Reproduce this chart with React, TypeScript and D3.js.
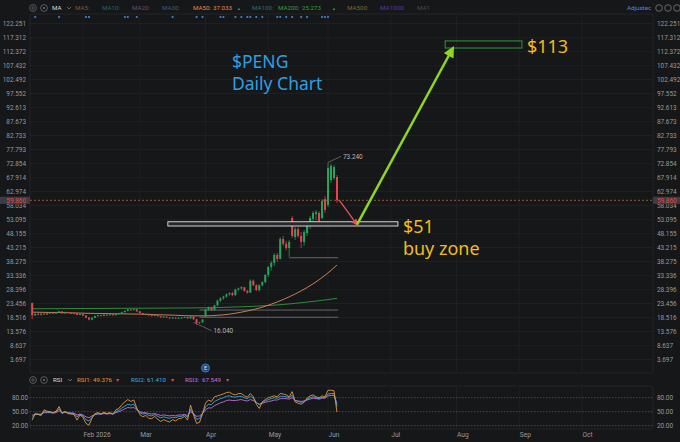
import React from "react";
import * as d3 from "d3";

type Bar = [number, number, number, number]; // open, high, low, close

const firstSession = "2026-01-07";
const holidays = ["2026-01-19", "2026-02-16", "2026-04-03", "2026-05-25", "2026-06-19", "2026-07-03", "2026-09-07"];
const monthLabels = ["Feb 2026", "Mar", "Apr", "May", "Jun", "Jul", "Aug", "Sep", "Oct"];
const priceTicks = [122.251, 117.312, 112.372, 107.432, 102.492, 97.552, 92.613, 87.673, 82.733, 77.793, 72.854, 67.914,
  62.974, 58.034, 53.095, 48.155, 43.215, 38.275, 33.336, 28.396, 23.456, 18.516, 13.576, 8.637, 3.697];
const rsiTicks = [80, 50, 20];

const candles: Bar[] = [
  [23.6, 23.8, 17.9, 19.3], [19.3, 20.0, 19.0, 19.8], [19.8, 20.1, 19.3, 19.5], [19.5, 20.0, 19.2, 19.9],
  [19.9, 20.2, 19.5, 19.6], [19.6, 20.2, 19.4, 20.0], [20.0, 20.4, 19.8, 20.2], [20.2, 20.5, 19.8, 19.9],
  [19.9, 20.6, 19.8, 20.4], [20.4, 20.9, 20.2, 20.7], [20.7, 20.8, 19.9, 20.0], [20.0, 20.6, 19.9, 20.4],
  [20.4, 20.5, 20.0, 20.1], [20.1, 20.3, 19.8, 20.0], [20.0, 20.2, 19.7, 19.9], [19.9, 20.0, 19.3, 19.4],
  [19.4, 19.9, 19.3, 19.7], [19.7, 19.8, 19.0, 19.2], [19.2, 19.3, 18.3, 18.5], [18.5, 18.6, 17.5, 17.8],
  [17.8, 18.6, 17.6, 18.4], [18.4, 19.2, 18.3, 19.0], [19.0, 19.5, 18.8, 19.3], [19.3, 19.4, 18.9, 19.1],
  [19.1, 19.7, 19.0, 19.5], [19.5, 19.6, 19.1, 19.3], [19.3, 19.8, 19.2, 19.6], [19.6, 19.7, 19.1, 19.3],
  [19.3, 19.9, 19.2, 19.7], [19.7, 20.2, 19.6, 19.9], [19.9, 20.6, 19.8, 20.4], [20.4, 21.0, 20.3, 20.8],
  [20.8, 21.6, 20.7, 21.3], [21.3, 21.5, 20.9, 21.1], [21.1, 21.6, 21.0, 21.4], [21.4, 21.5, 20.5, 20.7],
  [20.7, 20.8, 19.9, 20.1], [20.1, 20.2, 19.5, 19.7], [19.7, 20.0, 19.5, 19.8], [19.8, 19.9, 19.1, 19.3],
  [19.3, 19.5, 18.9, 19.2], [19.2, 19.6, 19.0, 19.4], [19.4, 19.5, 18.8, 19.0], [19.0, 19.1, 18.4, 18.6],
  [18.6, 19.0, 18.5, 18.8], [18.8, 18.9, 18.3, 18.5], [18.5, 18.6, 18.1, 18.2], [18.2, 18.7, 18.1, 18.5],
  [18.5, 18.6, 18.0, 18.2], [18.2, 18.6, 18.0, 18.4], [18.4, 18.7, 18.2, 18.5], [18.5, 18.9, 18.3, 18.7],
  [18.7, 18.8, 18.1, 18.2], [18.2, 19.1, 18.1, 18.9], [18.9, 19.0, 17.7, 17.9], [17.9, 18.0, 16.04, 16.6],
  [16.6, 17.0, 16.3, 16.8], [16.8, 18.0, 16.7, 17.8], [18.9, 21.6, 18.7, 21.3], [21.3, 22.4, 20.9, 22.1],
  [22.1, 22.2, 20.8, 21.1], [21.1, 23.0, 21.0, 22.8], [22.8, 24.8, 22.5, 24.5], [24.5, 25.6, 24.0, 25.3],
  [25.3, 26.2, 24.8, 25.9], [25.9, 27.0, 25.5, 26.7], [26.7, 27.4, 26.2, 27.1], [27.1, 27.6, 26.0, 26.4],
  [26.4, 28.7, 26.2, 28.4], [28.4, 29.1, 27.8, 28.8], [28.8, 29.5, 28.3, 29.2], [29.2, 29.3, 27.6, 27.9],
  [27.9, 28.3, 26.9, 27.3], [27.3, 32.0, 27.2, 31.5], [31.5, 31.9, 29.6, 29.9], [29.9, 30.3, 27.8, 28.2],
  [28.2, 30.2, 27.6, 29.9], [29.9, 31.3, 29.5, 31.0], [31.0, 33.9, 30.7, 33.5], [33.5, 36.7, 32.8, 36.3],
  [36.3, 38.5, 35.0, 37.8], [37.8, 41.3, 36.7, 40.6], [40.6, 41.3, 38.1, 39.2], [39.2, 46.9, 39.1, 46.2],
  [46.2, 47.3, 43.8, 44.5], [44.5, 45.5, 42.3, 43.0], [43.0, 45.9, 39.9, 45.2], [53.6, 54.3, 46.6, 47.3],
  [46.9, 50.5, 45.9, 49.7], [49.7, 50.5, 46.6, 47.3], [47.3, 48.7, 43.0, 45.2], [45.2, 49.4, 43.8, 48.7],
  [48.3, 52.2, 47.3, 51.5], [51.2, 54.3, 49.7, 53.6], [53.3, 56.1, 50.8, 55.4], [55.0, 56.5, 52.9, 55.7],
  [55.4, 56.1, 51.5, 52.6], [53.6, 60.3, 53.3, 59.6], [60.3, 61.4, 55.4, 56.5], [58.2, 73.24, 57.5, 71.3],
  [67.0, 72.7, 66.0, 72.0], [67.7, 72.3, 67.0, 71.6], [68.1, 68.8, 58.9, 59.86],
];
const lastClose = 59.86;
const highBar = 99;
const lowBar = 55;

const ma50Bars = [0, 6, 12, 18, 24, 30, 36, 42, 48, 54, 58, 62, 66, 70, 74, 78, 82, 86, 90, 94, 98, 102];
const ma50 = [20.4, 20.3, 20.2, 20.0, 19.9, 19.8, 19.7, 19.5, 19.3, 19.1, 19.1, 19.3, 19.7, 20.4, 21.3, 22.5, 24.0, 25.8, 27.9, 30.4, 33.4, 37.033];
const ma200Bars = [0, 20, 40, 58, 70, 80, 88, 94, 98, 102];
const ma200 = [21.6, 21.7, 21.8, 21.95, 22.3, 22.8, 23.5, 24.2, 24.7, 25.273];

const rsi1 = [32, 46, 44, 42, 54, 51, 50, 48, 51, 61, 46, 50, 46, 45, 44, 32, 43, 38, 25, 21,
  36, 46, 48, 45, 49, 46, 48, 45, 54, 57, 65, 71, 76, 72, 75, 58, 44, 39, 42, 36,
  35, 40, 34, 29, 33, 30, 28, 33, 30, 35, 36, 40, 32, 64, 43, 25, 27, 46, 68, 75,
  72, 82, 84, 86, 88, 91, 92, 88, 86, 89, 89, 84, 81, 89, 82, 66, 57, 71, 76, 80,
  82, 84, 82, 89, 88, 86, 82, 93, 71, 68, 66, 70, 79, 84, 86, 82, 80, 84, 82, 96,
  96, 95, 49.376];
const rsi2 = [38, 44, 44, 43, 50, 49, 49, 48, 50, 56, 48, 50, 47, 47, 46, 39, 44, 41, 33, 30,
  38, 44, 46, 45, 47, 46, 47, 45, 50, 53, 58, 62, 66, 64, 66, 56, 48, 45, 46, 42,
  41, 44, 40, 37, 39, 37, 36, 38, 37, 40, 40, 43, 38, 55, 45, 34, 35, 46, 60, 66,
  65, 72, 75, 78, 80, 83, 84, 82, 81, 83, 83, 80, 78, 83, 79, 70, 65, 70, 73, 76,
  78, 80, 79, 83, 83, 82, 80, 85, 74, 72, 70, 72, 77, 80, 82, 80, 78, 81, 80, 88,
  89, 89, 61.41];
const rsi3 = [42, 45, 45, 45, 48, 48, 48, 47, 48, 52, 48, 49, 48, 47, 47, 43, 45, 43, 39, 37,
  41, 44, 45, 45, 46, 45, 46, 45, 48, 50, 53, 56, 59, 58, 59, 54, 50, 48, 48, 46,
  45, 46, 44, 42, 43, 42, 41, 42, 41, 43, 43, 44, 42, 50, 46, 40, 41, 46, 54, 58,
  58, 63, 66, 69, 71, 74, 75, 74, 74, 75, 76, 74, 73, 76, 74, 69, 66, 68, 70, 72,
  73, 75, 75, 78, 78, 78, 77, 80, 74, 73, 72, 73, 75, 77, 79, 78, 77, 79, 79, 84,
  85, 85, 67.549];

const newsBars = [1, 9, 18, 19, 31, 32, 35, 47, 55, 57, 63, 64, 68, 70, 72, 73, 75, 77, 82, 83, 85, 87, 90, 92, 97, 98, 99];
const earningsBar = 58;

// horizontal levels drawn on the chart (bar range, price)
const levelLines = [
  { from: 86, to: 102.4, price: 39.6 },
  { from: 56, to: 102.4, price: 21.15 },
  { from: 56, to: 102.4, price: 18.6 },
];
const buyZone = { from: 45.4, to: 122.4, low: 50.8, high: 52.3 };
const targetZone = { from: 138.2, to: 163.9, low: 113.6, high: 116.1 };
const pullback: [number, number][] = [[102.7, 59.98], [108.7, 51.3]];
const projection: [number, number][] = [[108.7, 51.3], [140.8, 113.6]];

function buildSessions(start: string, n: number): Date[] {
  const out: Date[] = [];
  const d = new Date(start + "T00:00:00Z");
  while (out.length < n) {
    const wd = d.getUTCDay();
    const iso = d.toISOString().slice(0, 10);
    if (wd !== 0 && wd !== 6 && !holidays.includes(iso)) out.push(new Date(d));
    d.setUTCDate(d.getUTCDate() + 1);
  }
  return out;
}

const UP = "#22a65e";
const DOWN = "#e5464d";
const GRID = "#212328";
const AXIS = "#9a9a9a";
const GOLD = "#f0bd1c";
const small = "Roboto, 'Noto Sans', sans-serif";

export default function App() {
  const W = 680, H = 442;
  const plotL = 30, plotR = 653, plotT = 14, plotB = 373;
  const rsiT = 386, rsiB = 429;

  const sessions = buildSessions(firstSession, 190);
  const monthStarts = sessions
    .map((d, i) => (i > 0 && d.getUTCMonth() !== sessions[i - 1].getUTCMonth() ? i : -1))
    .filter((i) => i > 0)
    .slice(0, monthLabels.length);

  const x = d3.scaleLinear().domain([0, 184]).range([32.2, 582]);
  const y = d3.scaleLinear().domain([3.697, 122.251]).range([359.5, 23.5]);
  const yr = d3.scaleLinear().domain([20, 80]).range([425.7, 397.7]);

  const maLine = d3.line<[number, number]>().x((d) => x(d[0])).y((d) => y(d[1])).curve(d3.curveMonotoneX);
  const rsiLine = d3.line<number>().x((_, i) => x(i)).y((d) => yr(d));

  const hx = x(highBar), hy = y(candles[highBar][1]);
  const lx = x(lowBar), ly = y(candles[lowBar][2]);
  const lastY = y(lastClose);

  const topLegend = [
    { t: "MA5:", c: "#7d5c38", x: 75 },
    { t: "MA10:", c: "#2f6270", x: 102 },
    { t: "MA20:", c: "#6a4c78", x: 132 },
    { t: "MA30:", c: "#3e5a88", x: 162 },
    { t: "MA50:", c: "#e38b3d", x: 193 },
    { t: "37.033", c: "#e38b3d", x: 213 },
    { t: "▲", c: UP, x: 237, s: 4 },
    { t: "MA100:", c: "#2f6f6f", x: 252 },
    { t: "MA200:", c: "#2fa040", x: 278 },
    { t: "25.273", c: "#2fa040", x: 302 },
    { t: "▲", c: UP, x: 332, s: 4 },
    { t: "MA500:", c: "#7a6a2a", x: 347 },
    { t: "MA1000:", c: "#5a3a9a", x: 380 },
    { t: "MA1", c: "#4a4a4a", x: 417 },
  ];
  const rsiLegend = [
    { t: "RSI1:", c: "#e6963a", x: 77 },
    { t: "49.376", c: "#e6963a", x: 93 },
    { t: "▾", c: DOWN, x: 116 },
    { t: "RSI2:", c: "#38aee0", x: 131 },
    { t: "61.410", c: "#38aee0", x: 147 },
    { t: "▾", c: DOWN, x: 171 },
    { t: "RSI3:", c: "#c76ee0", x: 185 },
    { t: "67.549", c: "#c76ee0", x: 202 },
    { t: "▾", c: DOWN, x: 226 },
  ];

  const icons = (cy: number, name: string, nx: number) => (
    <g>
      <circle cx={33} cy={cy} r={3.4} fill="none" stroke="#6c6c6c" strokeWidth={0.8} />
      <circle cx={33} cy={cy} r={1.2} fill="none" stroke="#6c6c6c" strokeWidth={0.7} />
      <circle cx={44} cy={cy} r={3.4} fill="none" stroke="#6c6c6c" strokeWidth={0.8} />
      <circle cx={44} cy={cy} r={1.1} fill="#6c6c6c" />
      <text x={nx} y={cy + 2.2} fontSize={6.2} fill="#dcdcdc" fontFamily={small}>{name}</text>
      <path d={`M${nx + 15},${cy - 1} l2,2 l2,-2`} fill="none" stroke="#7a7a7a" strokeWidth={0.8} />
    </g>
  );

  return (
    <svg width={W} height={H} style={{ position: "fixed", left: 0, top: 0, display: "block" }}>
      <defs>
        <marker id="gHead" viewBox="0 0 10 10" refX="8" refY="5" markerWidth="5" markerHeight="4.4" orient="auto">
          <path d="M0,0 L10,5 L0,10 z" fill="#8fd61f" />
        </marker>
        <marker id="rHead" viewBox="0 0 10 10" refX="8" refY="5" markerWidth="5" markerHeight="5" orient="auto">
          <path d="M0,0 L10,5 L0,10 z" fill="#e25555" />
        </marker>
      </defs>
      <rect width={W} height={H} fill="#161719" />

      {/* grid */}
      {priceTicks.map((t) => (
        <line key={t} x1={plotL} x2={plotR} y1={y(t)} y2={y(t)} stroke={GRID} strokeWidth={0.7} />
      ))}
      {monthStarts.map((i) => (
        <g key={i}>
          <line x1={x(i)} x2={x(i)} y1={plotT} y2={plotB} stroke={GRID} strokeWidth={0.7} />
          <line x1={x(i)} x2={x(i)} y1={rsiT} y2={rsiB} stroke={GRID} strokeWidth={0.7} />
        </g>
      ))}
      <rect x={plotL} y={plotT} width={plotR - plotL} height={plotB - plotT} rx={2} fill="none" stroke="#26282d" strokeWidth={0.8} />
      <rect x={plotL} y={rsiT} width={plotR - plotL} height={rsiB - rsiT} rx={2} fill="none" stroke="#26282d" strokeWidth={0.8} />

      {/* price axes */}
      {priceTicks.map((t) => (
        <g key={"l" + t} fontSize={6.4} fill={AXIS} fontFamily={small}>
          <text x={26} y={y(t) + 2.2} textAnchor="end">{t.toFixed(3)}</text>
          <text x={657} y={y(t) + 2.2}>{t.toFixed(3)}</text>
        </g>
      ))}

      {/* level lines */}
      {levelLines.map((l, k) => (
        <line key={k} x1={x(l.from)} x2={x(l.to)} y1={y(l.price)} y2={y(l.price)} stroke="#6d6f74" strokeWidth={0.9} />
      ))}

      {/* moving averages */}
      <path d={maLine(ma200Bars.map((b, k) => [b, ma200[k]] as [number, number]))!} fill="none" stroke="#2f9a3c" strokeWidth={0.9} />
      <path d={maLine(ma50Bars.map((b, k) => [b, ma50[k]] as [number, number]))!} fill="none" stroke="#d88a5c" strokeWidth={0.9} />

      {/* current price */}
      <line x1={plotL} x2={plotR} y1={lastY} y2={lastY} stroke="#b8643a" strokeWidth={0.8} strokeDasharray="2,2" />

      {/* candles */}
      {candles.map(([o, h, l, c], i) => {
        const col = c >= o ? UP : DOWN;
        const top = y(Math.max(o, c));
        const bh = Math.max(0.8, y(Math.min(o, c)) - top);
        return (
          <g key={i}>
            <line x1={x(i)} x2={x(i)} y1={y(h)} y2={y(l)} stroke={col} strokeWidth={0.7} />
            <rect x={x(i) - 1} y={top} width={2} height={bh} fill={col} />
          </g>
        );
      })}

      {/* high / low labels */}
      <path d={`M${hx},${hy} L${hx + 13},${hy - 6}`} stroke="#8a8a8a" strokeWidth={0.6} fill="none" />
      <text x={hx + 15} y={hy - 3.5} fontSize={6.4} fill="#b4b4b4" fontFamily={small}>{candles[highBar][1].toFixed(3)}</text>
      <path d={`M${lx - 3},${ly - 2} L${lx + 15},${ly + 6}`} stroke="#8a8a8a" strokeWidth={0.6} fill="none" />
      <text x={lx + 17} y={ly + 8.5} fontSize={6.4} fill="#b4b4b4" fontFamily={small}>{candles[lowBar][2].toFixed(3)}</text>

      {/* annotations */}
      <rect x={x(buyZone.from)} y={y(buyZone.high)} width={x(buyZone.to) - x(buyZone.from)} height={y(buyZone.low) - y(buyZone.high)}
        fill="#26282b" stroke="#e6e6e6" strokeWidth={0.9} />
      <rect x={x(targetZone.from)} y={y(targetZone.high)} width={x(targetZone.to) - x(targetZone.from)} height={y(targetZone.low) - y(targetZone.high)}
        fill="none" stroke="#2e9a3a" strokeWidth={1} />
      <line x1={x(pullback[0][0])} y1={y(pullback[0][1])} x2={x(pullback[1][0])} y2={y(pullback[1][1])}
        stroke="#e25555" strokeWidth={1.3} markerEnd="url(#rHead)" />
      <line x1={x(projection[0][0])} y1={y(projection[0][1])} x2={x(projection[1][0])} y2={y(projection[1][1])}
        stroke="#8fd61f" strokeWidth={2.5} markerEnd="url(#gHead)" />

      <g fontFamily="'Noto Sans', 'Open Sans', sans-serif" fontSize={17.5}>
        <text x={232} y={68} fill="#2f9fe0">$PENG</text>
        <text x={232} y={90} fill="#2f9fe0">Daily Chart</text>
        <text x={x(targetZone.to) + 5} y={y(targetZone.low) + 4.5} fill={GOLD} fontSize={18}>$113</text>
        <text x={x(buyZone.to) + 5} y={y(buyZone.low) + 7} fill={GOLD} fontSize={18}>$51</text>
        <text x={x(buyZone.to) + 5} y={y(buyZone.low) + 29} fill={GOLD} fontSize={18}>buy zone</text>
      </g>

      {/* last price tags */}
      <rect x={0} y={lastY - 3.6} width={plotL} height={7.2} fill="#3a3d43" />
      <text x={26} y={lastY + 2.2} textAnchor="end" fontSize={6.4} fill="#e04848" fontFamily={small}>{lastClose.toFixed(3)}</text>
      <rect x={plotR} y={lastY - 3.6} width={W - plotR} height={7.2} fill="#3a3d43" />
      <text x={657} y={lastY + 2.2} fontSize={6.4} fill="#e04848" fontFamily={small}>{lastClose.toFixed(3)}</text>

      {/* top legend */}
      {icons(8, "MA", 52)}
      {topLegend.map((d, k) => (
        <text key={k} x={d.x} y={10.2} fontSize={d.s ?? 6.2} fill={d.c} fontFamily={small}>{d.t}</text>
      ))}
      <text x={627} y={10.2} fontSize={6.2} fill="#4a8ee0" fontFamily={small}>Adjustec</text>
      {[659, 668, 677].map((cx) => (
        <circle key={cx} cx={cx} cy={8} r={3.3} fill="none" stroke="#7a7a7a" strokeWidth={0.8} />
      ))}
      {newsBars.map((b) => (
        <circle key={b} cx={x(b)} cy={17} r={1.1} fill="#3d85d8" />
      ))}

      {/* earnings marker */}
      <circle cx={x(earningsBar)} cy={368} r={4} fill="#23467a" stroke="#4a86d0" strokeWidth={0.8} />
      <text x={x(earningsBar)} y={370} textAnchor="middle" fontSize={5.5} fill="#d8e6ff" fontFamily={small}>E</text>

      {/* RSI panel */}
      {icons(380, "RSI", 53)}
      {rsiLegend.map((d, k) => (
        <text key={k} x={d.x} y={382.2} fontSize={6.2} fill={d.c} fontFamily={small}>{d.t}</text>
      ))}
      {rsiTicks.map((t) => (
        <g key={t}>
          <line x1={plotL} x2={plotR} y1={yr(t)} y2={yr(t)} stroke="#5a5c60" strokeWidth={0.7} strokeDasharray="1.5,1.5" />
          <text x={28} y={yr(t) + 2.2} textAnchor="end" fontSize={6.4} fill={AXIS} fontFamily={small}>{t.toFixed(2)}</text>
          <text x={657} y={yr(t) + 2.2} fontSize={6.4} fill={AXIS} fontFamily={small}>{t.toFixed(2)}</text>
        </g>
      ))}
      <path d={rsiLine(rsi3)!} fill="none" stroke="#c76ee0" strokeWidth={0.9} />
      <path d={rsiLine(rsi2)!} fill="none" stroke="#38aee0" strokeWidth={0.9} />
      <path d={rsiLine(rsi1)!} fill="none" stroke="#e6963a" strokeWidth={0.9} />

      {/* time axis */}
      {monthStarts.map((i, k) => (
        <text key={i} x={x(i) + 0.5} y={437} fontSize={6.6} fill={AXIS} fontFamily={small}>{monthLabels[k]}</text>
      ))}
    </svg>
  );
}
